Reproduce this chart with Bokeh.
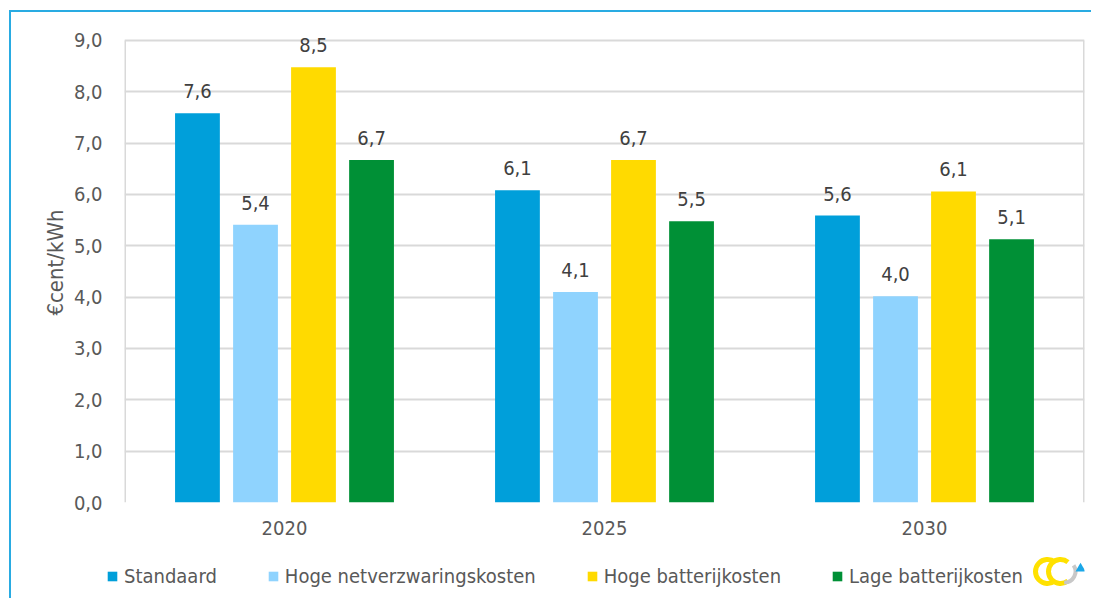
from bokeh.plotting import figure
from bokeh.layouts import column, row
from bokeh.models import ColumnDataSource, FactorRange, Range1d, Legend, LegendItem
from bokeh.core.properties import value
from bokeh.transform import dodge
from bokeh.embed import file_html
from bokeh.resources import INLINE

years = ["2020", "2025", "2030"]
series = ["Standaard", "Hoge netverzwaringskosten", "Hoge batterijkosten", "Lage batterijkosten"]
standaard = [7.58, 6.08, 5.59]
hoge_net = [5.41, 4.10, 4.02]
hoge_bat = [8.48, 6.67, 6.06]
lage_bat = [6.67, 5.48, 5.13]
colors = ["#009FDA", "#8FD3FE", "#FFDA00", "#009036"]
yticks = [0, 1, 2, 3, 4, 5, 6, 7, 8, 9]

FONT = "'DejaVu Sans Condensed', 'DejaVu Sans'"
W = 1080
GRID = "#D9D9D9"

# y range extends a little above the top gridline so the top value label is not clipped
p = figure(x_range=FactorRange(*years, range_padding=0), y_range=Range1d(0, 9.35),
           width=W, height=530, output_backend="svg", toolbar_location=None,
           min_border_left=113, min_border_right=7, min_border_top=10, min_border_bottom=40)

offsets = [-0.272, -0.0906, 0.0906, 0.272]
all_vals = [standaard, hoge_net, hoge_bat, lage_bat]
for name, vals, col, off in zip(series, all_vals, colors, offsets):
    src = ColumnDataSource(dict(x=years, top=vals,
                                lab=[f"{v:.1f}".replace(".", ",") for v in vals]))
    p.vbar(x=dodge("x", off, range=p.x_range), top="top", width=0.14, source=src,
           fill_color=col, line_color=None)
    p.text(x=dodge("x", off, range=p.x_range), y="top", text="lab", source=src,
           text_align="center", text_baseline="bottom", y_offset=-15,
           text_font=value(FONT), text_font_size="20px", text_color="#404040")

# plot-area frame: vertical sides between the lowest and highest tick
p.segment(x0=[0, len(years)], y0=[yticks[0]] * 2, x1=[0, len(years)], y1=[yticks[-1]] * 2,
          line_color=GRID, line_width=3)

p.outline_line_color = None
p.xgrid.grid_line_color = None
p.ygrid.grid_line_color = GRID
p.ygrid.grid_line_width = 2
p.yaxis.ticker = yticks
p.yaxis.major_label_overrides = {t: f"{t:.1f}".replace(".", ",") for t in yticks}
for ax in (p.xaxis[0], p.yaxis[0]):
    ax.axis_line_color = None
    ax.major_tick_line_color = None
    ax.minor_tick_line_color = None
    ax.major_label_text_font = FONT
    ax.major_label_text_font_size = "20px"
    ax.major_label_text_color = "#595959"
p.yaxis.major_label_standoff = 16
p.xaxis.major_label_standoff = 12
p.yaxis.axis_label = "€cent/kWh"
p.yaxis.axis_label_text_font = FONT
p.yaxis.axis_label_text_font_size = "22px"
p.yaxis.axis_label_text_font_style = "normal"
p.yaxis.axis_label_text_color = "#595959"
p.yaxis.axis_label_standoff = 3

# legend strip below the chart (coordinates in page pixels)
lf = figure(width=W, height=56, output_backend="svg", toolbar_location=None,
            x_range=Range1d(106, 1084), y_range=Range1d(0, 56),
            min_border_left=95, min_border_right=7, min_border_top=0, min_border_bottom=0)
lf.xaxis.visible = False
lf.yaxis.visible = False
lf.grid.visible = False
lf.outline_line_color = None
items = []
for name, col in zip(series, colors):
    r = lf.vbar(x=[0], top=[-10], bottom=[-20], width=1, fill_color=col, line_color=None)
    items.append(LegendItem(label=name, renderers=[r]))
legend = Legend(items=items, orientation="horizontal", location=(0, 10),
                glyph_width=12, glyph_height=12, label_standoff=6, spacing=50,
                padding=0, margin=0, border_line_color=None, background_fill_alpha=0,
                label_text_font=FONT, label_text_font_size="20px",
                label_text_color="#595959")
lf.add_layout(legend, "center")

# logo (decorative)
lf.arc(x=[1047, 1060], y=[27, 27], radius=12, start_angle=0.9, end_angle=-0.9,
       line_color="#FFE100", line_width=5)
lf.arc(x=[1064], y=[27], radius=11, start_angle=-1.6, end_angle=0.6,
       line_color="#C8C8C8", line_width=4)
lf.scatter(x=[1080], y=[30], marker="triangle", size=10, fill_color="#1AA7E8",
           line_color=None)

layout = column(p, row(lf), spacing=0)
layout.styles = {"border-top": "2px solid #29ABE2", "border-left": "2px solid #29ABE2",
                 "margin-left": "9px", "margin-top": "10px"}

open("out.html", "w").write(file_html(layout, INLINE))
